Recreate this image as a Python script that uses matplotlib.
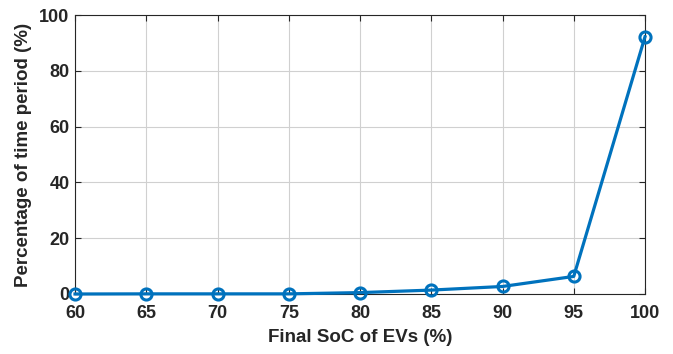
import matplotlib
matplotlib.use("Agg")
import matplotlib.pyplot as plt

final_soc = [60, 65, 70, 75, 80, 85, 90, 95, 100]
pct_time = [0.0, 0.05, 0.05, 0.05, 0.5, 1.4, 2.7, 6.3, 92.2]

plt.rcParams["font.family"] = ["Liberation Sans", "DejaVu Sans"]
plt.rcParams["font.weight"] = "bold"

fig = plt.figure(figsize=(6.73, 3.54), dpi=100)
ax = fig.add_axes([75 / 673, 1 - 294 / 354, 570 / 673, 279 / 354])

ax.plot(final_soc, pct_time, "-o", color="#0072BD", lw=2.3,
        markersize=8, markerfacecolor="none", markeredgewidth=2.2, clip_on=False, zorder=3)

ax.set_xlim(60, 100)
ax.set_ylim(0, 100)
ax.set_xticks(range(60, 101, 5))
ax.set_yticks(range(0, 101, 20))
ax.grid(True, color="#d0d0d0", lw=0.8)
ax.tick_params(direction="in", top=True, right=True, length=4, width=0.8,
               labelsize=13, colors="#262626")
ax.tick_params(axis="x", pad=8)
ax.tick_params(axis="y", pad=4)
for lab in ax.get_xticklabels() + ax.get_yticklabels():
    lab.set_fontweight("bold")
for s in ax.spines.values():
    s.set_color("#262626")
    s.set_linewidth(0.8)

ax.set_xlabel("Final SoC of EVs (%)", fontsize=13.5, fontweight="bold", color="#262626", labelpad=5)
ax.set_ylabel("Percentage of time period (%)", fontsize=13.5, fontweight="bold", color="#262626", labelpad=5)

fig.savefig("out.png", dpi=100)
